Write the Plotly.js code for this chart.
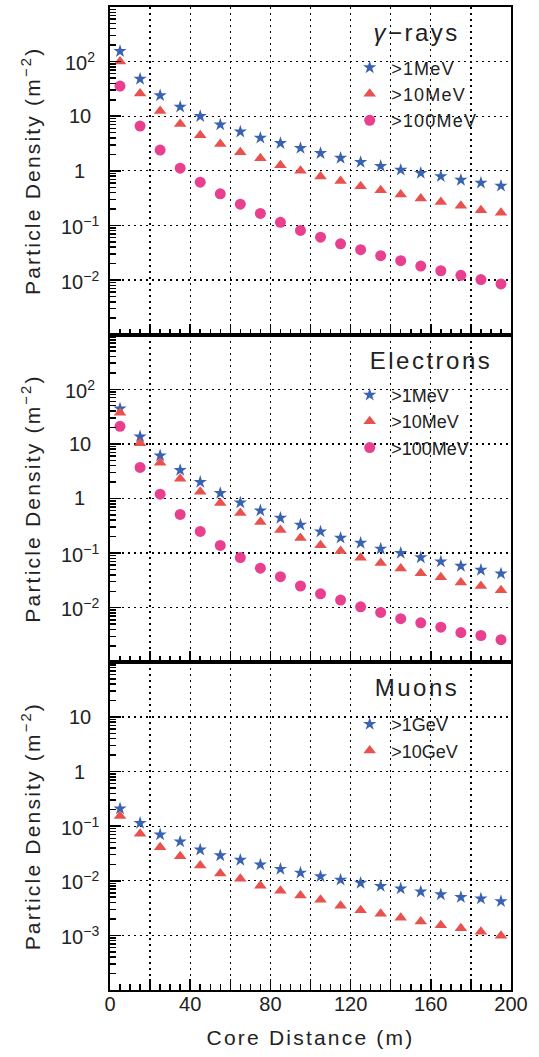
<!DOCTYPE html>
<html>
<head>
<meta charset="utf-8">
<script src="https://cdn.plot.ly/plotly-3.0.1.min.js"></script>
<style>
  html, body { margin: 0; padding: 0; background: #fff; }
  #chart { width: 539px; height: 1057px; }
  .infolayer text[class$="title"] { letter-spacing: 2.2px; }
  .legendtext { letter-spacing: 1.2px; }
  .annotation[data-index="0"] text,
  .annotation[data-index="1"] text,
  .annotation[data-index="2"] text { letter-spacing: 2.5px; }
</style>
</head>
<body>
<div id="chart"></div>
<script>
// ---- data ----
const distance = [5, 15, 25, 35, 45, 55, 65, 75, 85, 95, 105, 115, 125, 135, 145, 155, 165, 175, 185, 195];

const gammaGt1MeV   = [155, 48, 24, 14.8, 10, 7.0, 5.2, 4.0, 3.2, 2.6, 2.1, 1.72, 1.44, 1.22, 1.04, 0.91, 0.79, 0.68, 0.60, 0.53];
const gammaGt10MeV  = [100, 26, 12.5, 7.2, 4.5, 3.1, 2.2, 1.7, 1.27, 1.0, 0.79, 0.65, 0.52, 0.44, 0.37, 0.31, 0.27, 0.23, 0.19, 0.17];
const gammaGt100MeV = [35.6, 6.6, 2.4, 1.12, 0.62, 0.38, 0.245, 0.166, 0.114, 0.081, 0.061, 0.046, 0.036, 0.028, 0.0226, 0.018, 0.0148, 0.0122, 0.0102, 0.0085];

const electronGt1MeV   = [44, 13.6, 6.1, 3.3, 2.0, 1.25, 0.84, 0.60, 0.44, 0.33, 0.247, 0.19, 0.153, 0.12, 0.10, 0.083, 0.070, 0.058, 0.049, 0.042];
const electronGt10MeV  = [37, 10.3, 4.5, 2.3, 1.33, 0.83, 0.54, 0.37, 0.265, 0.19, 0.14, 0.109, 0.082, 0.066, 0.052, 0.043, 0.036, 0.029, 0.025, 0.021];
const electronGt100MeV = [21, 3.7, 1.2, 0.51, 0.25, 0.138, 0.083, 0.053, 0.037, 0.025, 0.018, 0.0138, 0.0104, 0.0082, 0.0063, 0.0053, 0.0044, 0.0035, 0.0031, 0.0026];

const muonGt1GeV  = [0.21, 0.114, 0.070, 0.052, 0.037, 0.029, 0.024, 0.0197, 0.0164, 0.014, 0.012, 0.0104, 0.0091, 0.0080, 0.0072, 0.0063, 0.0056, 0.0050, 0.0047, 0.0042];
const muonGt10GeV = [0.153, 0.073, 0.041, 0.028, 0.019, 0.0136, 0.0109, 0.0081, 0.0066, 0.0054, 0.0045, 0.0035, 0.0029, 0.0025, 0.0021, 0.0018, 0.00154, 0.00135, 0.00116, 0.00098];

const panelTitles = ['<i>γ</i>−rays', 'Electrons', 'Muons'];
const gammaLabels = ['>1MeV', '>10MeV', '>100MeV'];
const electronLabels = ['>1MeV', '>10MeV', '>100MeV'];
const muonLabels = ['>1GeV', '>10GeV'];

const xTickVals = [0, 40, 80, 120, 160, 200];
const xGridVals = [0, 20, 40, 60, 80, 100, 120, 140, 160, 180, 200];
const upperTickExp = [2, 1, 0, -1, -2];
const upperTickText = ['10<sup>2</sup>', '10', '1', '10<sup>−1</sup>', '10<sup>−2</sup>'];
const muonTickExp = [1, 0, -1, -2, -3];
const muonTickText = ['10', '1', '10<sup>−1</sup>', '10<sup>−2</sup>', '10<sup>−3</sup>'];

const xTitle = 'Core Distance (m)';
const yTitle = 'Particle Density (m<sup>−2</sup>)';

// ---- styles ----
const FONT = 'Liberation Sans, Arial, sans-serif';
const TXT = '#222';
const GRIDDASH = '2px,4px';
const starStyle = { symbol: 'star', size: 10, color: '#3a62b3' };
const triStyle  = { symbol: 'triangle-up', size: 11, color: '#e8514d' };
const dotStyle  = { symbol: 'circle', size: 11, color: '#e8408f' };

function tr(y, name, style, ax, legend) {
  return {
    type: 'scatter', mode: 'markers', x: distance, y: y, name: name,
    xaxis: 'x' + ax, yaxis: 'y' + ax, legend: legend,
    marker: { symbol: style.symbol, size: style.size, color: style.color, line: { width: 0 } },
    hoverinfo: 'x+y'
  };
}

const data = [
  tr(gammaGt1MeV, gammaLabels[0], starStyle, '', 'legend'),
  tr(gammaGt10MeV, gammaLabels[1], triStyle, '', 'legend'),
  tr(gammaGt100MeV, gammaLabels[2], dotStyle, '', 'legend'),
  tr(electronGt1MeV, electronLabels[0], starStyle, '2', 'legend2'),
  tr(electronGt10MeV, electronLabels[1], triStyle, '2', 'legend2'),
  tr(electronGt100MeV, electronLabels[2], dotStyle, '2', 'legend2'),
  tr(muonGt1GeV, muonLabels[0], starStyle, '3', 'legend3'),
  tr(muonGt10GeV, muonLabels[1], triStyle, '3', 'legend3'),
  // empty trace so that the label-only axis (x4) gets drawn
  { type: 'scatter', mode: 'markers', x: [], y: [], xaxis: 'x4', yaxis: 'y3', showlegend: false, hoverinfo: 'skip' }
];

function xa(anchor) {
  return {
    anchor: anchor, domain: [0, 1], range: [0, 200],
    tickmode: 'array', tickvals: xGridVals, showticklabels: false,
    ticks: 'inside', ticklen: 11, tickwidth: 1.5, tickcolor: '#000',
    minor: { tickmode: 'linear', tick0: 0, dtick: 5, ticks: 'inside', ticklen: 6, tickwidth: 1.5, tickcolor: '#000', showgrid: false },
    showgrid: true, gridcolor: '#000', griddash: GRIDDASH, gridwidth: 1.3,
    showline: true, linecolor: '#000', linewidth: 2, mirror: true,
    zeroline: false
  };
}

function ya(anchor, domain, range, tickExp) {
  return {
    anchor: anchor, domain: domain, type: 'log', range: range,
    tickmode: 'array', tickvals: tickExp.map(e => Math.pow(10, e)), showticklabels: false,
    ticks: 'inside', ticklen: 11, tickwidth: 1.5, tickcolor: '#000',
    minor: { dtick: 'D1', ticks: 'inside', ticklen: 6, tickwidth: 1.5, tickcolor: '#000', showgrid: false },
    showgrid: true, gridcolor: '#000', griddash: GRIDDASH, gridwidth: 1.3,
    showline: true, linecolor: '#000', linewidth: 2, mirror: true,
    zeroline: false,
    title: { text: yTitle, font: { family: FONT, size: 21, color: TXT }, standoff: 62 }
  };
}

const annotations = [];
// panel titles (indices 0..2)
[[panelTitles[0], 'y domain'], [panelTitles[1], 'y2 domain'], [panelTitles[2], 'y3 domain']].forEach(([t, yr], i) => {
  annotations.push({
    text: t, xref: 'paper', yref: yr, x: 0.67, y: 0.922, xanchor: 'left', yanchor: 'middle',
    showarrow: false, font: { family: FONT, size: 24, color: TXT }
  });
});
// y tick labels, centred like the reference
function addTickLabels(exps, texts, yref) {
  exps.forEach((e, i) => {
    annotations.push({
      text: texts[i], xref: 'paper', yref: yref, x: -0.075, y: e,
      xanchor: 'center', yanchor: 'middle', showarrow: false,
      font: { family: FONT, size: 20, color: TXT }
    });
  });
}
addTickLabels(upperTickExp, upperTickText, 'y');
addTickLabels(upperTickExp, upperTickText, 'y2');
addTickLabels(muonTickExp, muonTickText, 'y3');

function lg(y) {
  return {
    x: 0.594, y: y, xanchor: 'left', yanchor: 'top', bgcolor: 'rgba(0,0,0,0)', borderwidth: 0,
    font: { family: FONT, size: 18, color: TXT }, itemwidth: 33
  };
}

// label-only axis for the bottom panel (labels every 40 m)
const xLabelAxis = {
  overlaying: 'x3', anchor: 'y3', range: [0, 200], side: 'bottom',
  tickmode: 'array', tickvals: xTickVals, ticks: '', showgrid: false, showline: false, zeroline: false,
  tickfont: { family: FONT, size: 20, color: TXT },
  title: { text: xTitle, font: { family: FONT, size: 21, color: TXT }, standoff: 16 }
};

const layout = {
  width: 539, height: 1057,
  margin: { l: 110, r: 28, t: 7, b: 67 },
  paper_bgcolor: '#fff', plot_bgcolor: '#fff',
  showlegend: true,
  xaxis: xa('y'),
  xaxis2: xa('y2'),
  xaxis3: xa('y3'),
  xaxis4: xLabelAxis,
  yaxis: ya('x', [2 / 3, 1], [-3, 3], upperTickExp),
  yaxis2: ya('x2', [1 / 3, 2 / 3], [-3, 3], upperTickExp),
  yaxis3: ya('x3', [0, 1 / 3], [-4, 2], muonTickExp),
  legend: lg(0.957),
  legend2: lg(0.624),
  legend3: lg(0.289),
  annotations: annotations
};

Plotly.newPlot('chart', data, layout, { displayModeBar: false, staticPlot: true });
</script>
</body>
</html>
